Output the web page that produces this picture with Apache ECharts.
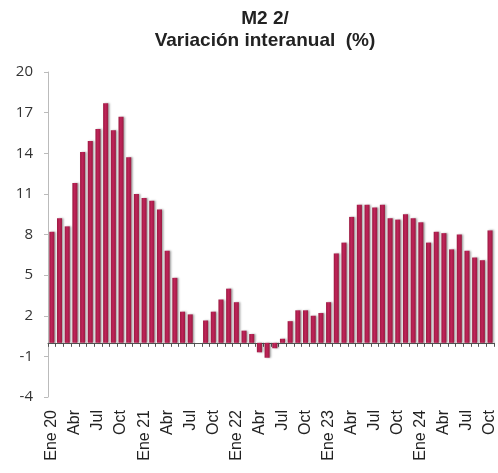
<!DOCTYPE html>
<html>
<head>
<meta charset="utf-8">
<script src="https://cdn.jsdelivr.net/npm/echarts@6/dist/echarts.min.js"></script>
<style>
  html, body { margin: 0; padding: 0; background: #fff; }
  #chart { width: 498px; height: 473px; }
</style>
</head>
<body>
<div id="chart"></div>
<script>
// month labels (ticks shown every 3 months)
var monthNames = ['Ene', 'Feb', 'Mar', 'Abr', 'May', 'Jun', 'Jul', 'Ago', 'Sep', 'Oct', 'Nov', 'Dic'];
var years = ['20', '21', '22', '23', '24'];
var lastMonth = 9; // Oct 24

// M2, variación interanual (%), Ene 20 .. Oct 24
var m2Growth = [
  8.2, 9.2, 8.6, 11.8, 14.1, 14.9, 15.8, 17.7, 15.7, 16.7, 13.7, 11.0,
  10.7, 10.5, 9.85, 6.8, 4.8, 2.3, 2.1, 0, 1.65, 2.3, 3.2, 4.0,
  3.0, 0.9, 0.65, -0.7, -1.1, -0.4, 0.3, 1.6, 2.4, 2.4, 2.0, 2.2,
  3.0, 6.6, 7.4, 9.3, 10.2, 10.2, 10.0, 10.2, 9.2, 9.1, 9.5, 9.2,
  8.9, 7.4, 8.2, 8.1, 6.9, 8.0, 6.8, 6.3, 6.1, 8.3
];

var yTicks = { min: -4, max: 20, step: 3 };

var categories = [];
years.forEach(function(y, yi) {
  monthNames.forEach(function(m, mi) {
    if (yi === years.length - 1 && mi > lastMonth) return;
    categories.push(mi === 0 ? m + ' ' + y : m);
  });
});

var chart = echarts.init(document.getElementById('chart'), null, { renderer: 'canvas' });
chart.setOption({
  animation: false,
  title: {
    text: 'M2 2/\nVariación interanual  (%)',
    left: 260,
    top: 3,
    textAlign: 'center',
    textStyle: {
      fontFamily: 'Liberation Sans',
      fontSize: 19,
      fontWeight: 'bold',
      color: '#222',
      lineHeight: 22
    }
  },
  grid: { left: 48, right: 0, top: 72, bottom: 76, containLabel: false },
  xAxis: [
    {
      type: 'category',
      data: categories,
      position: 'bottom',
      axisLine: { show: false },
      axisTick: { show: false },
      axisLabel: {
        interval: 2,
        rotate: 90,
        margin: 13,
        fontFamily: 'Liberation Sans',
        fontSize: 16,
        color: '#222'
      }
    },
    {
      type: 'category',
      data: categories,
      position: 'bottom',
      axisLine: { onZero: true, onZeroAxisIndex: 0, lineStyle: { color: '#555', width: 1 } },
      axisTick: { show: true, interval: 0, length: 4, lineStyle: { color: '#555' } },
      axisLabel: { show: false }
    }
  ],
  yAxis: {
    type: 'value',
    min: yTicks.min,
    max: yTicks.max,
    interval: yTicks.step,
    axisLine: { show: true, lineStyle: { color: '#bbb', width: 1 } },
    axisTick: { show: true, length: 4, lineStyle: { color: '#bbb' } },
    splitLine: { show: false },
    axisLabel: {
      margin: 15,
      fontFamily: 'Open Sans',
      fontSize: 15,
      color: '#333'
    }
  },
  series: [{
    type: 'bar',
    xAxisIndex: 0,
    data: m2Growth,
    barWidth: '66%',
    itemStyle: {
      color: new echarts.graphic.LinearGradient(0, 0, 1, 0, [
        { offset: 0, color: '#9a1a40' },
        { offset: 0.45, color: '#c0245a' },
        { offset: 1, color: '#9a1a40' }
      ]),
      shadowColor: 'rgba(0,0,0,0.35)',
      shadowBlur: 2,
      shadowOffsetX: 1.5,
      shadowOffsetY: 0
    }
  }]
});
window.addEventListener('resize', function() { chart.resize(); });
</script>
</body>
</html>
